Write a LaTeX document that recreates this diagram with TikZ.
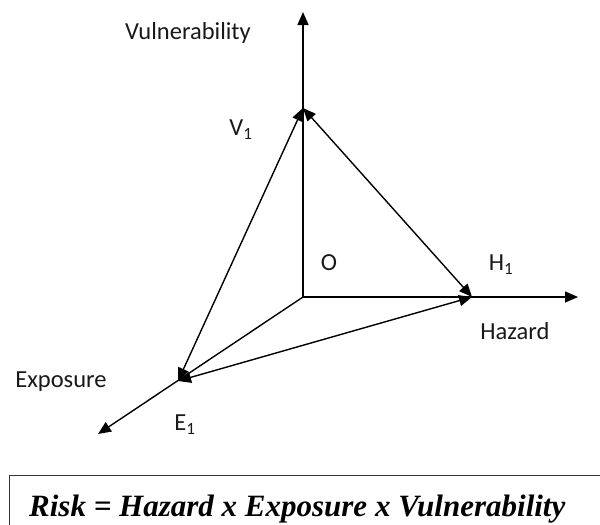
\documentclass[tikz,border=0pt]{standalone}
\usepackage{fontspec}
\setmainfont{Carlito}
\newfontfamily\formulafont{Liberation Serif}
\usetikzlibrary{arrows.meta}
\tikzset{
  axis/.style={line width=1.4pt, -{Triangle[length=13pt,width=11pt]}},
  edge/.style={line width=1.4pt, {Triangle[length=13pt,width=11pt]}-{Triangle[length=13pt,width=11pt]}},
  lbl/.style={font=\fontsize{24.5}{28}\selectfont, text=black!90, inner sep=0pt},
  pt/.style={inner sep=0pt, minimum size=0pt}
}
\begin{document}
\begin{tikzpicture}[x=1pt,y=-1pt]
\useasboundingbox (0,0) rectangle (600,525);
\clip (0,0) rectangle (600,525);
% points
\coordinate (O) at (303,297);
\coordinate (Vtip) at (303,12);
\coordinate (Htip) at (578,297);
\coordinate (Etip) at (98,434);
\coordinate (V1) at (303,108);
\coordinate (H1) at (472,297);
\coordinate (E1) at (178,381);
% axes
\draw[axis] (O) -- (Vtip);
\draw[axis] (O) -- (Htip);
\draw[axis] (O) -- (Etip);
% triangle
\draw[edge] (E1) -- (V1);
\draw[edge] (V1) -- (H1);
\draw[edge] (E1) -- (H1);
% labels
\node[lbl] (lv) at (188,33) {Vulnerability};
\node[lbl] (lv1) at (241,130) {V\textsubscript{1}};
\node[lbl] (lo) at (329,263) {O};
\node[lbl] (lh1) at (501,265) {H\textsubscript{1}};
\node[lbl] (lh) at (515,331) {Hazard};
\node[lbl] (le) at (61,382) {Exposure};
\node[lbl] (le1) at (185,425) {E\textsubscript{1}};
% formula box
\draw[line width=1pt, black!80] (9,475) rectangle (620,560);
\node[anchor=base west, inner sep=0pt, font=\formulafont\bfseries\itshape\fontsize{31}{35}\selectfont] (f) at (29,516) {Risk = Hazard x Exposure x Vulnerability};
\end{tikzpicture}
\end{document}
